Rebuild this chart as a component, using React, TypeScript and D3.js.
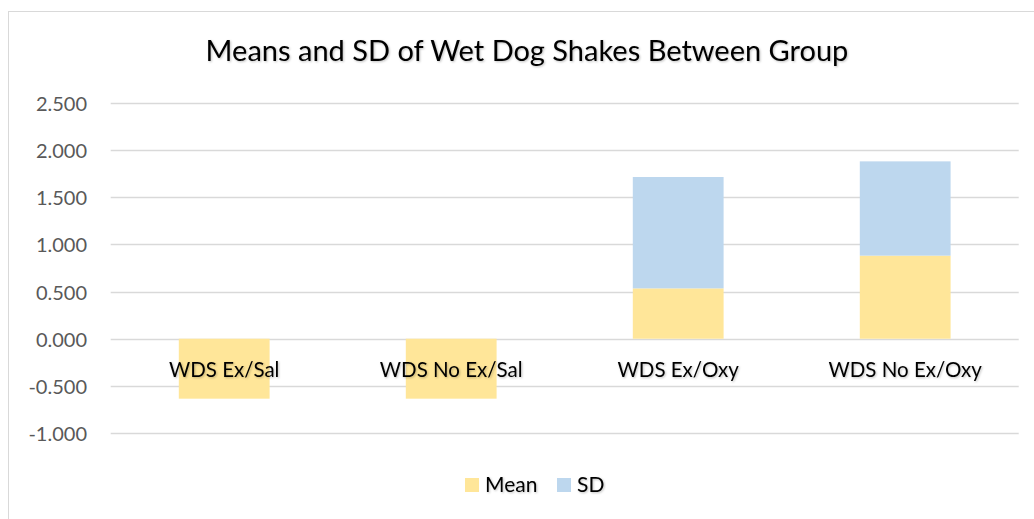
import React from 'react';
import * as d3 from 'd3';

const categories = ['WDS Ex/Sal', 'WDS No Ex/Sal', 'WDS Ex/Oxy', 'WDS No Ex/Oxy'];
const meanValues = [-0.636, -0.636, 0.534, 0.881];
const sdValues = [0, 0, 1.181, 1.0];
const seriesNames = ['Mean', 'SD'];
const seriesColors = ['#FFE699', '#BDD7EE'];
const yTicks = [-1, -0.5, 0, 0.5, 1, 1.5, 2, 2.5];

const W = 1034;
const H = 519;
const FONT = 'Lato, "Open Sans", sans-serif';

// Excel shows a plain hyphen for negatives
const fmt = d3.formatLocale({ decimal: '.', thousands: ',', grouping: [3], currency: ['', ''], minus: '-' }).format('.3f');

const App: React.FC = () => {
  const x = d3.scaleBand<string>()
    .domain(categories)
    .range([110.7, 1018.7])
    .paddingInner(0.6)
    .paddingOuter(0.3);

  const y = d3.scaleLinear().domain([-1, 2.5]).range([433, 103]);

  const rows = categories.map((c, i) => ({ cat: c, Mean: meanValues[i], SD: sdValues[i] }));
  const stacked = d3.stack<any>()
    .keys(seriesNames)
    .offset(d3.stackOffsetDiverging)(rows);

  return (
    <div style={{ position: 'fixed', left: 0, top: 0 }}>
      <svg width={W} height={H} style={{ display: 'block', background: '#fff' }}>
        <defs>
          <filter id="shadow" x="-5%" y="-20%" width="110%" height="150%">
            <feDropShadow dx="1" dy="1" stdDeviation="0.8" floodColor="#000" floodOpacity="0.25" />
          </filter>
        </defs>

        {/* chart area border */}
        <rect x={8.5} y={11.5} width={W + 10} height={H + 10} fill="#fff" stroke="#d9d9d9" />

        <text x={527} y={61} textAnchor="middle" fontFamily={FONT} fontSize={29}
          fill="#000" filter="url(#shadow)">
          Means and SD of Wet Dog Shakes Between Group
        </text>

        {/* gridlines + y labels */}
        {yTicks.map(t => (
          <g key={t}>
            <line x1={110.7} x2={1018.7} y1={Math.round(y(t)) + 0.5} y2={Math.round(y(t)) + 0.5}
              stroke="#d9d9d9" strokeWidth={1.5} />
            <text x={87} y={y(t) + 8} textAnchor="end" fontFamily={FONT} fontSize={20} fill="#595959">
              {fmt(t)}
            </text>
          </g>
        ))}

        {/* bars */}
        {stacked.map((s, si) => (
          <g key={s.key} fill={seriesColors[si]}>
            {s.map((d, i) => {
              const h = Math.abs(y(d[0]) - y(d[1]));
              if (h === 0) return null;
              return (
                <rect key={i} x={x(categories[i])!} width={x.bandwidth()}
                  y={Math.min(y(d[0]), y(d[1]))} height={h} />
              );
            })}
          </g>
        ))}

        {/* category labels */}
        {categories.map(c => (
          <text key={c} x={x(c)! + x.bandwidth() / 2} y={377} textAnchor="middle"
            fontFamily={FONT} fontSize={20.5} fill="#000" filter="url(#shadow)">
            {c}
          </text>
        ))}

        {/* legend */}
        {seriesNames.map((n, i) => {
          const lx = [465, 557][i];
          return (
            <g key={n}>
              <rect x={lx} y={478} width={14} height={14} fill={seriesColors[i]} />
              <text x={lx + 20} y={492} fontFamily={FONT} fontSize={21} fill="#000" filter="url(#shadow)">
                {n}
              </text>
            </g>
          );
        })}
      </svg>
    </div>
  );
};

export default App;
